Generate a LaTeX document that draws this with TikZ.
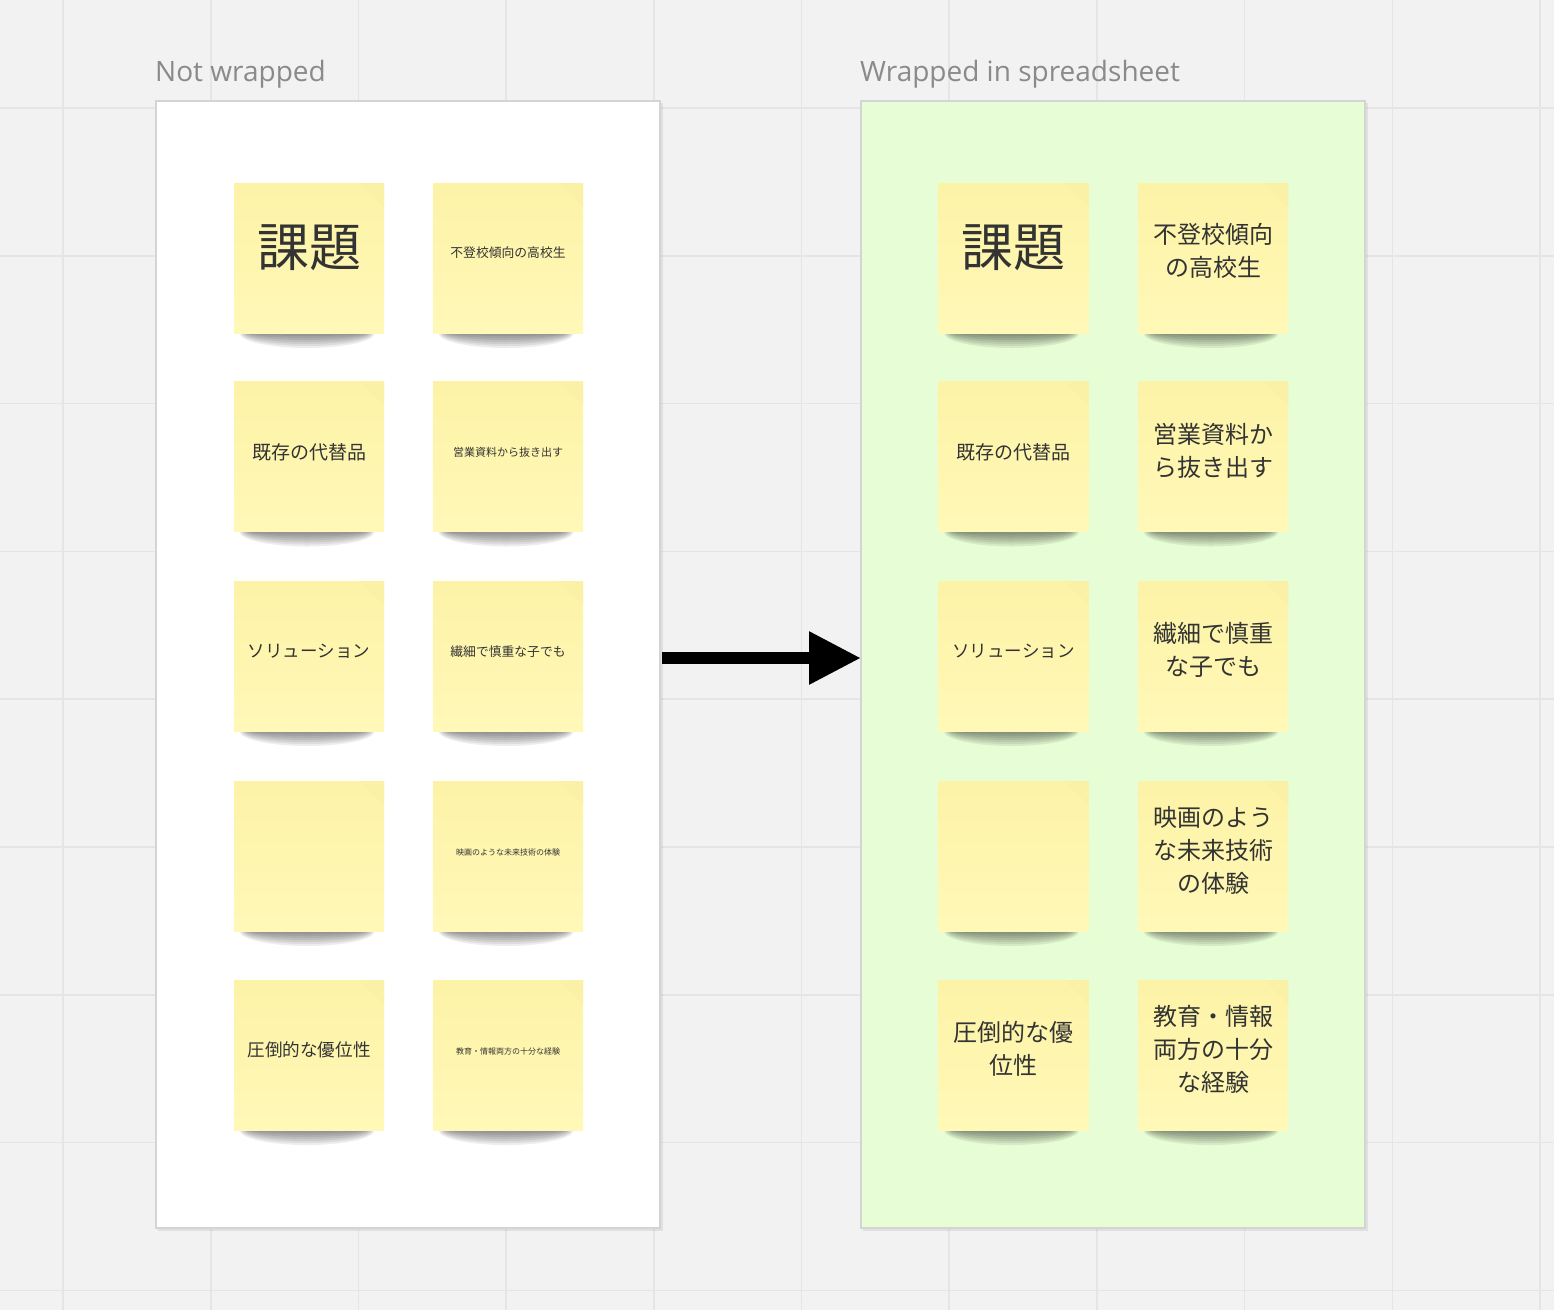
\documentclass[tikz,border=0pt]{standalone}
\usepackage{fontspec}
\setmainfont{Open Sans}
\newfontfamily\jp{Noto Sans CJK JP}
\usetikzlibrary{arrows.meta}
\definecolor{bg}{HTML}{F2F2F2}
\definecolor{gridc}{HTML}{E5E5E5}
\definecolor{greenfr}{HTML}{E7FDD5}
\definecolor{stickytop}{HTML}{FDF3A7}
\definecolor{stickybot}{HTML}{FFF8B7}
\definecolor{foldc}{HTML}{FAF1A6}
\definecolor{ink}{HTML}{333333}
\definecolor{labelc}{HTML}{8A8A8A}
\definecolor{frameedge}{HTML}{D4D4D4}
\tikzset{
  frame/.style={draw=frameedge, line width=1.2pt, minimum width=504pt, minimum height=1127pt, inner sep=0pt, outer sep=0pt},
  sticky/.style={minimum width=150pt, minimum height=150pt, inner sep=0pt, outer sep=0pt, top color=stickytop, bottom color=stickybot},
  notetext/.style={text=ink, align=center, inner sep=0pt},
  lbl/.style={text=labelc, font=\fontsize{28}{34}\selectfont, inner sep=0pt},
  bigarrow/.style={line width=12pt, black, -{Triangle[length=52pt,width=50pt]}},
}
% #1 name, #2 cx, #3 cy, #4 font size, #5 baselineskip, #6 raise, #7 text
\newcommand\stickynote[7]{%
  \foreach \i in {0,...,6} {\fill[black,opacity=0.07] (#2-2,#3+75) ellipse [x radius={58+1.6*\i}, y radius={3+2*\i}];}
  \node[sticky] (#1) at (#2,#3) {};
  \fill[foldc] (#1.north east) -- ++(-24,0) -- ++(24,24) -- cycle;
  \node[notetext, font=\jp\fontsize{#4}{#5}\selectfont] (#1t) at ([yshift=#6pt]#1.center) {#7};
}
\begin{document}
\begin{tikzpicture}[x=1pt,y=-1pt]
\useasboundingbox (0,0) rectangle (1554,1310);
\fill[bg] (0,0) rectangle (1554,1310);
\foreach \k in {0,...,10} \draw[gridc,line width=1.6pt] ({63+147.7*\k},0) -- ++(0,1310);
\foreach \k in {0,...,8} \draw[gridc,line width=1.6pt] (0,{108+147.8*\k}) -- ++(1554,0);

% labels
\node[lbl, anchor=base west] (t1) at (155,81) {Not wrapped};
\node[lbl, anchor=base west] (t2) at (860,81) {Wrapped in spreadsheet};

% frames
\fill[black,opacity=0.07] (158,103) rectangle (663,1231);
\fill[black,opacity=0.07] (863,103) rectangle (1368,1231);
\node[frame, fill=white] (L) at (408,664.5) {};
\node[frame, fill=greenfr] (R) at (1113,664.5) {};

% left notes
\stickynote{a1}{309}{258}{52}{60}{10}{課題}
\stickynote{a2}{508}{258}{12.8}{16}{5}{不登校傾向の高校生}
\stickynote{a3}{309}{456.5}{19}{24}{4}{既存の代替品}
\stickynote{a4}{508}{456.5}{11}{14}{4}{営業資料から抜き出す}
\stickynote{a5}{309}{656}{17.5}{22}{5}{ソリューション}
\stickynote{a6}{508}{656}{12.8}{16}{4}{繊細で慎重な子でも}
\stickynote{a7}{309}{856}{12}{16}{0}{}
\stickynote{a8}{508}{856}{8}{10}{4}{映画のような未来技術の体験}
\stickynote{a9}{309}{1055}{17.6}{22}{5}{圧倒的な優位性}
\stickynote{a10}{508}{1055}{8}{10}{4}{教育・情報両方の十分な経験}

% right notes
\stickynote{b1}{1013.5}{258}{52}{60}{10}{課題}
\stickynote{b2}{1213}{258}{24}{33}{7}{不登校傾向\\の高校生}
\stickynote{b3}{1013.5}{456.5}{19}{24}{4}{既存の代替品}
\stickynote{b4}{1213}{456.5}{24}{33}{6}{営業資料か\\ら抜き出す}
\stickynote{b5}{1013.5}{656}{17.5}{22}{5}{ソリューション}
\stickynote{b6}{1213}{656}{24}{33}{6}{繊細で慎重\\な子でも}
\stickynote{b7}{1013.5}{856}{12}{16}{0}{}
\stickynote{b8}{1213}{856}{24}{33}{6}{映画のよう\\な未来技術\\の体験}
\stickynote{b9}{1013.5}{1055}{24}{33}{6}{圧倒的な優\\位性}
\stickynote{b10}{1213}{1055}{24}{33}{6}{教育・情報\\両方の十分\\な経験}

% arrow
\draw[bigarrow] ([xshift=1.5pt,yshift=6.5pt]L.east) -- ([yshift=6.5pt]R.west);
\end{tikzpicture}
\end{document}
